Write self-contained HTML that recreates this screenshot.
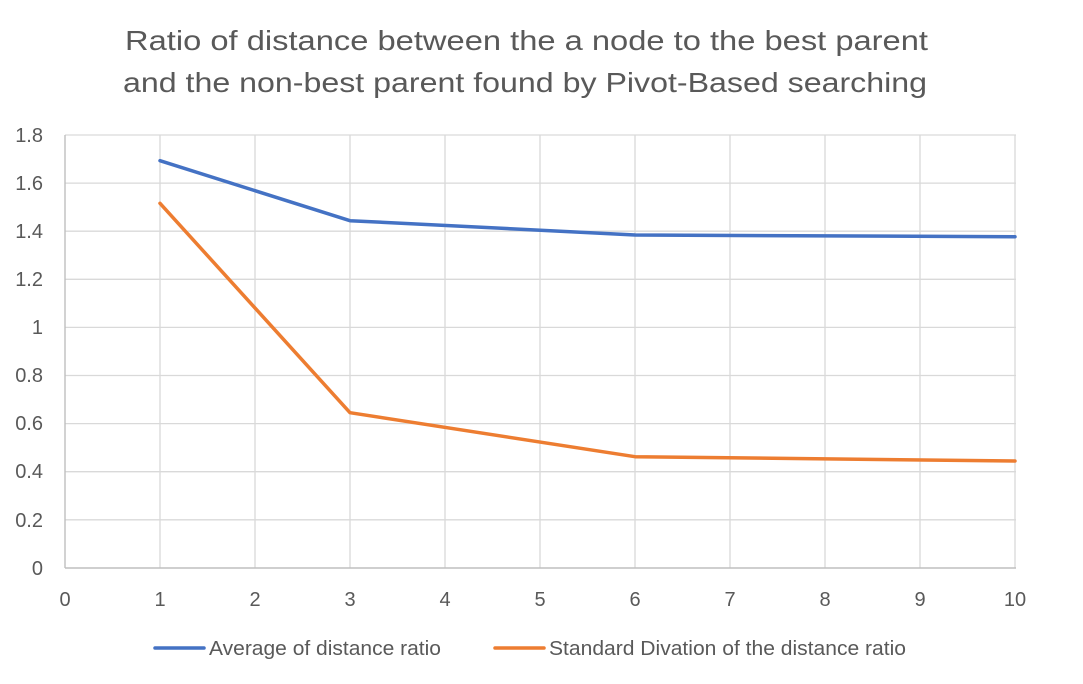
<!DOCTYPE html>
<html>
<head>
<meta charset="utf-8">
<style>
html,body{margin:0;padding:0;background:#fff;}
svg{display:block;}
text{font-family:"Liberation Sans",sans-serif;fill:#595959;}
</style>
</head>
<body>
<svg width="1083" height="684" viewBox="0 0 1083 684" xmlns="http://www.w3.org/2000/svg">
<rect width="1083" height="684" fill="#fff"/>
<!-- title -->
<text x="125" y="50" font-size="28" textLength="803" lengthAdjust="spacingAndGlyphs">Ratio of distance between the a node to the best parent</text>
<text x="123" y="92" font-size="28" textLength="804" lengthAdjust="spacingAndGlyphs">and the non-best parent found by Pivot-Based searching</text>

<!-- horizontal gridlines -->
<g stroke="#d9d9d9" stroke-width="1.3">
<line x1="65" y1="135" x2="1016" y2="135"/>
<line x1="65" y1="183.1" x2="1016" y2="183.1"/>
<line x1="65" y1="231.2" x2="1016" y2="231.2"/>
<line x1="65" y1="279.3" x2="1016" y2="279.3"/>
<line x1="65" y1="327.4" x2="1016" y2="327.4"/>
<line x1="65" y1="375.5" x2="1016" y2="375.5"/>
<line x1="65" y1="423.6" x2="1016" y2="423.6"/>
<line x1="65" y1="471.7" x2="1016" y2="471.7"/>
<line x1="65" y1="519.8" x2="1016" y2="519.8"/>
<!-- vertical gridlines -->
<line x1="160" y1="135" x2="160" y2="568"/>
<line x1="255" y1="135" x2="255" y2="568"/>
<line x1="350" y1="135" x2="350" y2="568"/>
<line x1="445" y1="135" x2="445" y2="568"/>
<line x1="540" y1="135" x2="540" y2="568"/>
<line x1="635" y1="135" x2="635" y2="568"/>
<line x1="730" y1="135" x2="730" y2="568"/>
<line x1="825" y1="135" x2="825" y2="568"/>
<line x1="920" y1="135" x2="920" y2="568"/>
<line x1="1015" y1="135" x2="1015" y2="568"/>
</g>
<!-- axes -->
<g stroke="#bfbfbf" stroke-width="1.4">
<line x1="65" y1="135" x2="65" y2="568"/>
<line x1="65" y1="568" x2="1016" y2="568"/>
</g>

<!-- y labels -->
<g font-size="20" text-anchor="end">
<text x="43" y="142">1.8</text>
<text x="43" y="190">1.6</text>
<text x="43" y="238">1.4</text>
<text x="43" y="286">1.2</text>
<text x="43" y="334">1</text>
<text x="43" y="382">0.8</text>
<text x="43" y="430">0.6</text>
<text x="43" y="478">0.4</text>
<text x="43" y="527">0.2</text>
<text x="43" y="575">0</text>
</g>
<!-- x labels -->
<g font-size="20" text-anchor="middle">
<text x="65" y="606">0</text>
<text x="160" y="606">1</text>
<text x="255" y="606">2</text>
<text x="350" y="606">3</text>
<text x="445" y="606">4</text>
<text x="540" y="606">5</text>
<text x="635" y="606">6</text>
<text x="730" y="606">7</text>
<text x="825" y="606">8</text>
<text x="920" y="606">9</text>
<text x="1015" y="606">10</text>
</g>

<!-- series -->
<polyline points="160,160.7 350,220.7 635,235 1015,236.7" fill="none" stroke="#4472c4" stroke-width="3.5" stroke-linejoin="round" stroke-linecap="round"/>
<polyline points="160,203.3 350,412.7 635,456.7 1015,461" fill="none" stroke="#ed7d31" stroke-width="3.5" stroke-linejoin="round" stroke-linecap="round"/>

<!-- legend -->
<line x1="155" y1="648" x2="204" y2="648" stroke="#4472c4" stroke-width="3.5" stroke-linecap="round"/>
<text x="209" y="655" font-size="20" textLength="232" lengthAdjust="spacingAndGlyphs">Average of distance ratio</text>
<line x1="495" y1="648" x2="544" y2="648" stroke="#ed7d31" stroke-width="3.5" stroke-linecap="round"/>
<text x="549" y="655" font-size="20" textLength="357" lengthAdjust="spacingAndGlyphs">Standard Divation of the distance ratio</text>
</svg>
</body>
</html>
